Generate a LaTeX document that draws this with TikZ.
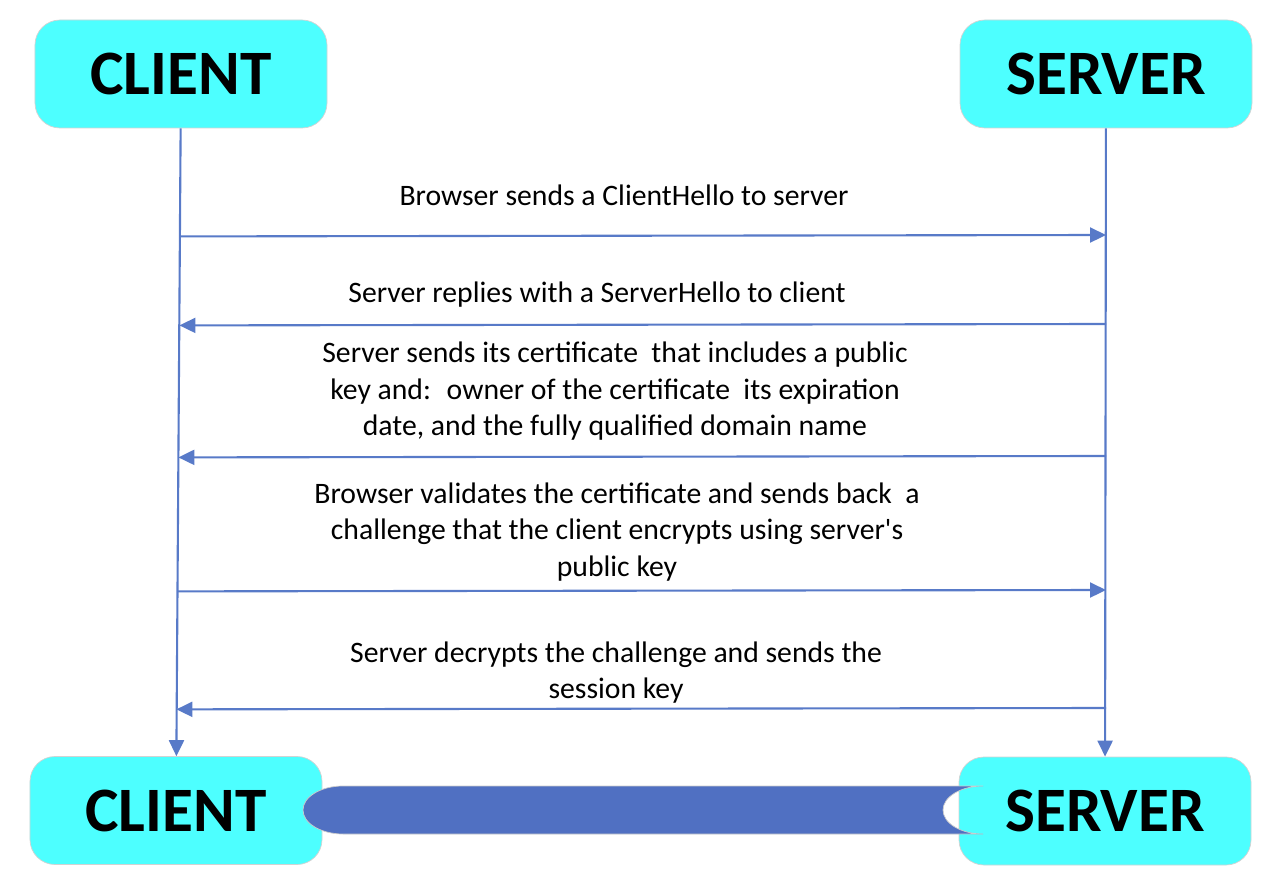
\documentclass[tikz,border=0pt]{standalone}
\usepackage{fontspec}
\setmainfont{Carlito}
\usetikzlibrary{
    arrows.meta,
    calc,
    positioning
}
\definecolor{boxcyan}{RGB}{77,255,255}
\definecolor{msgblue}{RGB}{88,122,200}
\definecolor{tubeblue}{RGB}{80,112,194}
\tikzset{
    party/.style={fill=boxcyan, draw=gray!35, rounded corners=0.5cm,
        minimum width=5.84cm, minimum height=2.16cm,
        font=\fontsize{36}{40}\selectfont\bfseries},
    msg/.style={msgblue, line width=1.2pt, -{Triangle[length=0.32cm, width=0.3cm]}},
    lbl/.style={align=center, font=\fontsize{16.9}{20.8}\selectfont}
}

\begin{document}
\begin{tikzpicture}[x=0.2cm, y=0.2cm]
                        \useasboundingbox (0, 0) rectangle (127.2, -88.5);
                        \fill[white] (0, 0) rectangle (127.2, -88.5);

                        \node[party] (c1) at (18.1, -7.4) {CLIENT};
                        \node[party] (s1) at (110.6, -7.4) {SERVER};
                        \node[party] (c2) at (17.6, -81.05) {CLIENT};
                        \node[party] (s2) at (110.5, -81.1) {SERVER};

                        % lifelines
                        \draw[msg] (c1) -- (c2);
                        \draw[msg] (s1) -- (s2);

                        % messages
                        \draw[msg] ($(c1.south)!(0, -23.5)!(c2.north)$) -- (s1 |- 0, -23.5);
                        \draw[msg] (s1 |- 0, -32.4) -- ($(c1.south)!(0, -32.4)!(c2.north)$);
                        \draw[msg] (s1 |- 0, -45.6) -- ($(c1.south)!(0, -45.6)!(c2.north)$);
                        \draw[msg] ($(c1.south)!(0, -59)!(c2.north)$) -- (s1 |- 0, -59);
                        \draw[msg] (s1 |- 0, -70.8) -- ($(c1.south)!(0, -70.8)!(c2.north)$);

                        \node[lbl] (t1) at (62.4, -19.5) {Browser sends a ClientHello to server};
                        \node[lbl] (t2) at (59.7, -29.5) {Server replies with a ServerHello to client};
                        \node[lbl] (t3) at (61.5, -39.15) {Server sends its certificate~ that includes a public\\
                            key and:~ owner of the certificate~ its expiration\\
                            date, and the fully qualified domain name};
                        \node[lbl] (t4) at (61.7, -53.2) {Browser validates the certificate and sends back~ a\\
                            challenge that the client encrypts using server\textquotesingle s\\
                            public key};
                        \node[lbl] (t5) at (61.6, -67.25) {Server decrypts the challenge and sends the\\
                            session key};

                        % session tube
                        \filldraw[fill=tubeblue, draw=gray!40, thin]
                        (34.3, -78.6) -- (98.3, -78.6)
                        arc[start angle=90, end angle=270, x radius=4, y radius=2.4]
                        -- (34.3, -83.4)
                        arc[start angle=270, end angle=90, x radius=4, y radius=2.4]
                        -- cycle;
                    \end{tikzpicture}
\end{document}
